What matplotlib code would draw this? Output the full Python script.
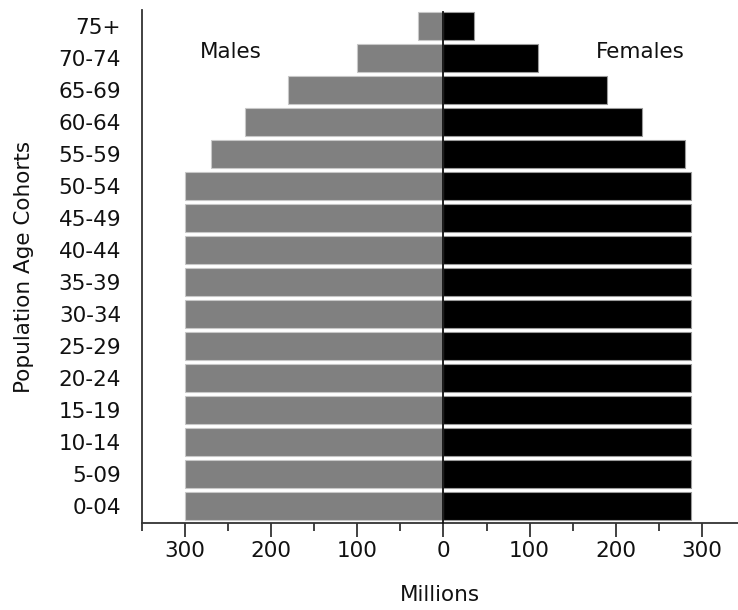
import matplotlib
matplotlib.use("Agg")
import matplotlib.pyplot as plt
import numpy as np

# age cohorts, bottom to top
cohorts = ["0-04", "5-09", "10-14", "15-19", "20-24", "25-29", "30-34", "35-39",
           "40-44", "45-49", "50-54", "55-59", "60-64", "65-69", "70-74", "75+"]
males = [300, 300, 300, 300, 300, 300, 300, 300, 300, 300, 300, 270, 230, 180, 100, 30]
females = [288, 288, 288, 288, 288, 288, 288, 288, 288, 288, 288, 280, 230, 190, 110, 36]
x_ticks = [-300, -200, -100, 0, 100, 200, 300]
x_ticklabels = ["300", "200", "100", "0", "100", "200", "300"]

plt.rcParams['font.family'] = ['DejaVu Sans']
fs = 15.5

fig = plt.figure(figsize=(7.38, 6.10), dpi=100)
ax = fig.add_axes([0.1924, 0.1426, 0.8076, 0.841])

y = np.arange(len(cohorts))
h = 0.85
ax.barh(y, -np.array(males), height=h, color="#808080", edgecolor="#c8c8c8", linewidth=0.8, zorder=2)
ax.barh(y, females, height=h, color="#000000", edgecolor="#9a9a9a", linewidth=0.8, zorder=2)

ax.set_xlim(-350, 342)
ax.set_ylim(-0.53, 15.5)

# spines
ax.spines['top'].set_visible(False)
ax.spines['left'].set_color("#333333")
ax.spines['left'].set_linewidth(1.3)
ax.spines['bottom'].set_color("#333333")
ax.spines['bottom'].set_linewidth(1.3)
ax.spines['right'].set_position(('data', 0))
ax.spines['right'].set_color("#111111")
ax.spines['right'].set_linewidth(1.3)
ax.spines['right'].set_bounds(-0.53, len(cohorts) - 1 + h / 2)
ax.spines['right'].set_zorder(3)

# y ticks: labels at left, tick marks on the centre line
ax.set_yticks(y)
ax.set_yticklabels(cohorts, fontsize=fs, color="#111111")
ax.tick_params(axis='y', left=False, right=True, labelleft=True, labelright=False,
               direction='in', length=7, width=1.3, color="#222222", pad=15)

# x ticks
ax.set_xticks(x_ticks)
ax.set_xticklabels(x_ticklabels, fontsize=fs, color="#111111")
ax.set_xticks([-350, -250, -150, -50, 50, 150, 250], minor=True)
ax.tick_params(axis='x', which='major', direction='out', length=10, width=1.3,
               color="#333333", pad=3)
ax.tick_params(axis='x', which='minor', direction='out', length=6, width=1.3,
               color="#333333")

ax.set_xlabel("Millions", fontsize=fs, labelpad=17, color="#111111")
ax.set_ylabel("Population Age Cohorts", fontsize=fs, labelpad=18, color="#111111")

ax.text(-247, 14.2, "Males", fontsize=fs, ha="center", va="center", color="#111111")
ax.text(228, 14.2, "Females", fontsize=fs, ha="center", va="center", color="#111111")

fig.savefig("out.png", dpi=100)
